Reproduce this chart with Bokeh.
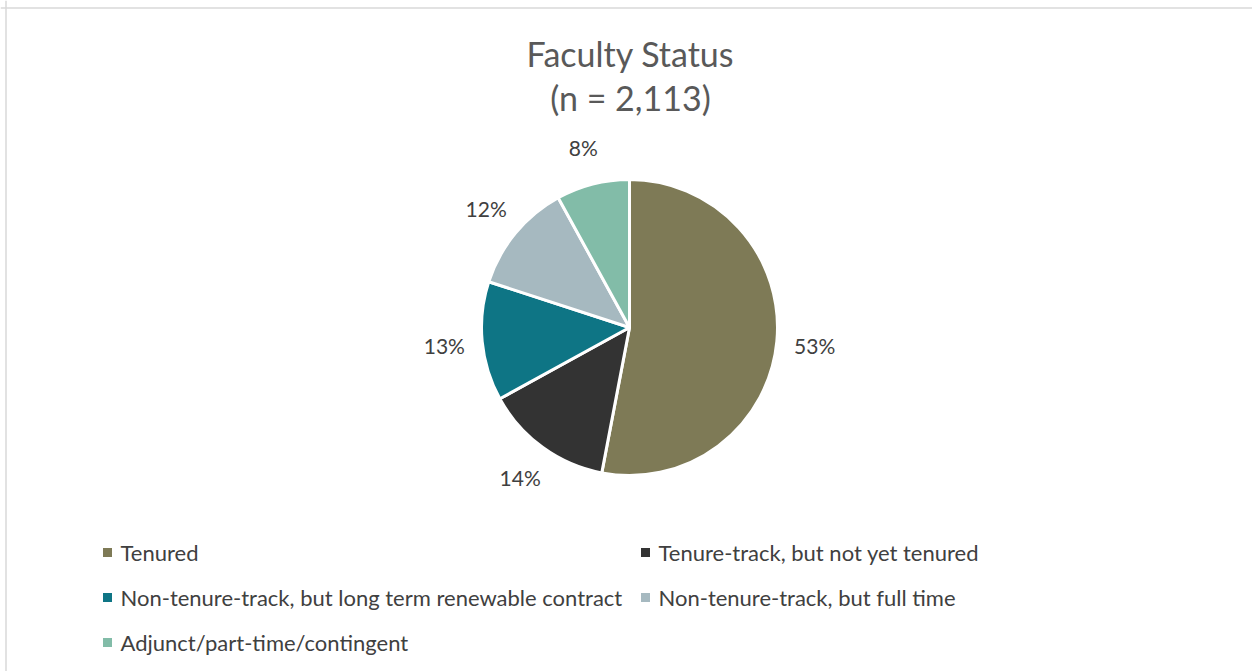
import math
from bokeh.plotting import figure
from bokeh.models import Range1d, ColumnDataSource, Span
from bokeh.core.properties import value
from bokeh.embed import file_html
from bokeh.resources import INLINE

# ---- data ----
categories = [
    "Tenured",
    "Tenure-track, but not yet tenured",
    "Non-tenure-track, but long term renewable contract",
    "Non-tenure-track, but full time",
    "Adjunct/part-time/contingent",
]
percents = [53, 14, 13, 12, 8]
colors = ["#7E7A56", "#333333", "#0E7585", "#A6B9C0", "#82BCA8"]
title_lines = ["Faculty Status", "(n = 2,113)"]

FONT = "Lato"
W, H = 1252, 671

p = figure(width=W, height=H, x_range=Range1d(0, W), y_range=Range1d(0, H),
           output_backend="svg", toolbar_location=None, min_border=0,
           background_fill_color="white", border_fill_color="white")
p.axis.visible = False
p.grid.visible = False
p.outline_line_color = None

def px(x, y):
    return x, H - y

# chart border (top and left visible)
p.add_layout(Span(location=H - 7.5, dimension="width", line_color="#D9D9D9", line_width=1.5))
p.add_layout(Span(location=5.5, dimension="height", line_color="#D9D9D9", line_width=1.5))

cx, cy = px(629, 327)
R = 148
RL = 186

total = sum(percents)
starts, ends, lx, ly, labels = [], [], [], [], []
cum = 0.0
for v in percents:
    a0 = math.pi / 2 - 2 * math.pi * cum / total
    cum += v
    a1 = math.pi / 2 - 2 * math.pi * cum / total
    starts.append(a0)
    ends.append(a1)
    mid = (a0 + a1) / 2
    lx.append(cx + RL * math.cos(mid))
    ly.append(cy + RL * math.sin(mid))
    labels.append(f"{v}%")

src = ColumnDataSource(dict(start=starts, end=ends, color=colors, lx=lx, ly=ly, label=labels))
p.wedge(x=cx, y=cy, radius=R, radius_units="screen", start_angle="start", end_angle="end",
        direction="clock", fill_color="color", line_color="white", line_width=3, source=src)
p.text(x="lx", y="ly", text="label", source=src, text_font=value(FONT), text_font_size="21px",
       text_color="#404040", text_align="center", text_baseline="middle")

# title
tx, ty1 = px(630, 53)
_, ty2 = px(630, 97)
p.text(x=[tx, tx], y=[ty1, ty2], text=title_lines, text_font=value(FONT), text_font_size="34px",
       text_color="#595959", text_align="center", text_baseline="middle")

# legend (two columns)
leg_pos = [(107, 552), (645, 552), (107, 597), (645, 597), (107, 642)]
mx = [px(a, b)[0] for a, b in leg_pos]
my = [px(a, b)[1] for a, b in leg_pos]
p.scatter(x=mx, y=my, marker="square", size=9, fill_color=colors, line_color=None)
p.text(x=[m + 13 for m in mx], y=my, text=categories, text_font=value(FONT), text_font_size="22px",
       text_color="#404040", text_align="left", text_baseline="middle")

open("out.html", "w").write(file_html(p, INLINE))
